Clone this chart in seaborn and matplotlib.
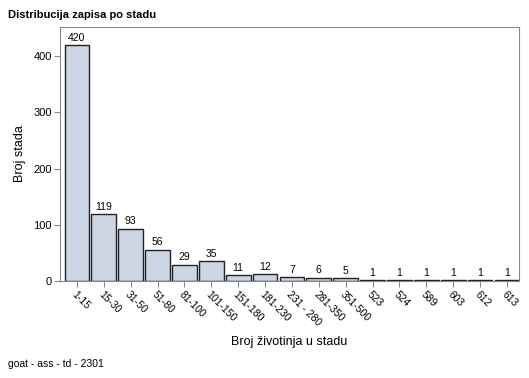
import pandas as pd
import matplotlib.pyplot as plt
import seaborn as sns

categories = ['1-15', '15-30', '31-50', '51-80', '81-100', '101-150', '151-180',
              '181-230', '231 - 280', '281-350', '351-500', '523', '524', '589',
              '603', '612', '613']
counts = [420, 119, 93, 56, 29, 35, 11, 12, 7, 6, 5, 1, 1, 1, 1, 1, 1]

data = pd.DataFrame({'stado': categories, 'broj': counts})

sns.set_style('white')
plt.rcParams['font.family'] = ['Liberation Sans', 'DejaVu Sans']
plt.rcParams['text.color'] = 'black'
plt.rcParams['axes.labelcolor'] = 'black'
plt.rcParams['xtick.color'] = 'black'
plt.rcParams['ytick.color'] = 'black'
plt.rcParams['savefig.bbox'] = 'standard'

fig = plt.figure(figsize=(5.29, 3.78), dpi=100)
ax = fig.add_axes([60/529, 1 - 281/378, 459/529, 254/378])

sns.barplot(data=data, x='stado', y='broj', color='#cbd5e4', edgecolor='#222222',
            linewidth=1.0, width=0.92, saturation=1, ax=ax)

for i, v in enumerate(counts):
    ax.text(i, v + 4, str(v), ha='center', va='bottom', fontsize=7.5)

ax.set_xlim(-0.63, 16.45)
ax.set_ylim(0, 452)
ax.set_yticks([0, 100, 200, 300, 400])
ax.tick_params(axis='both', labelsize=8, length=4, color='#888888', labelcolor='black',
               direction='out', bottom=True, left=True, pad=2)
ax.set_xticks(range(len(categories)))
ax.set_xticklabels(categories, rotation=-45, ha='left', rotation_mode='anchor', fontsize=7.5)
for s in ax.spines.values():
    s.set_color('#888888')
    s.set_linewidth(0.8)

ax.set_xlabel('Broj životinja u stadu', fontsize=9, labelpad=6)
ax.set_ylabel('Broj stada', fontsize=9, labelpad=5)

fig.text(8/529, 1 - 15/378, 'Distribucija zapisa po stadu', fontsize=8, fontweight='bold',
         va='center', ha='left')
fig.text(8/529, 1 - 364/378, 'goat - ass - td - 2301', fontsize=7.5, va='center', ha='left')

fig.savefig('out.png', dpi=100)
